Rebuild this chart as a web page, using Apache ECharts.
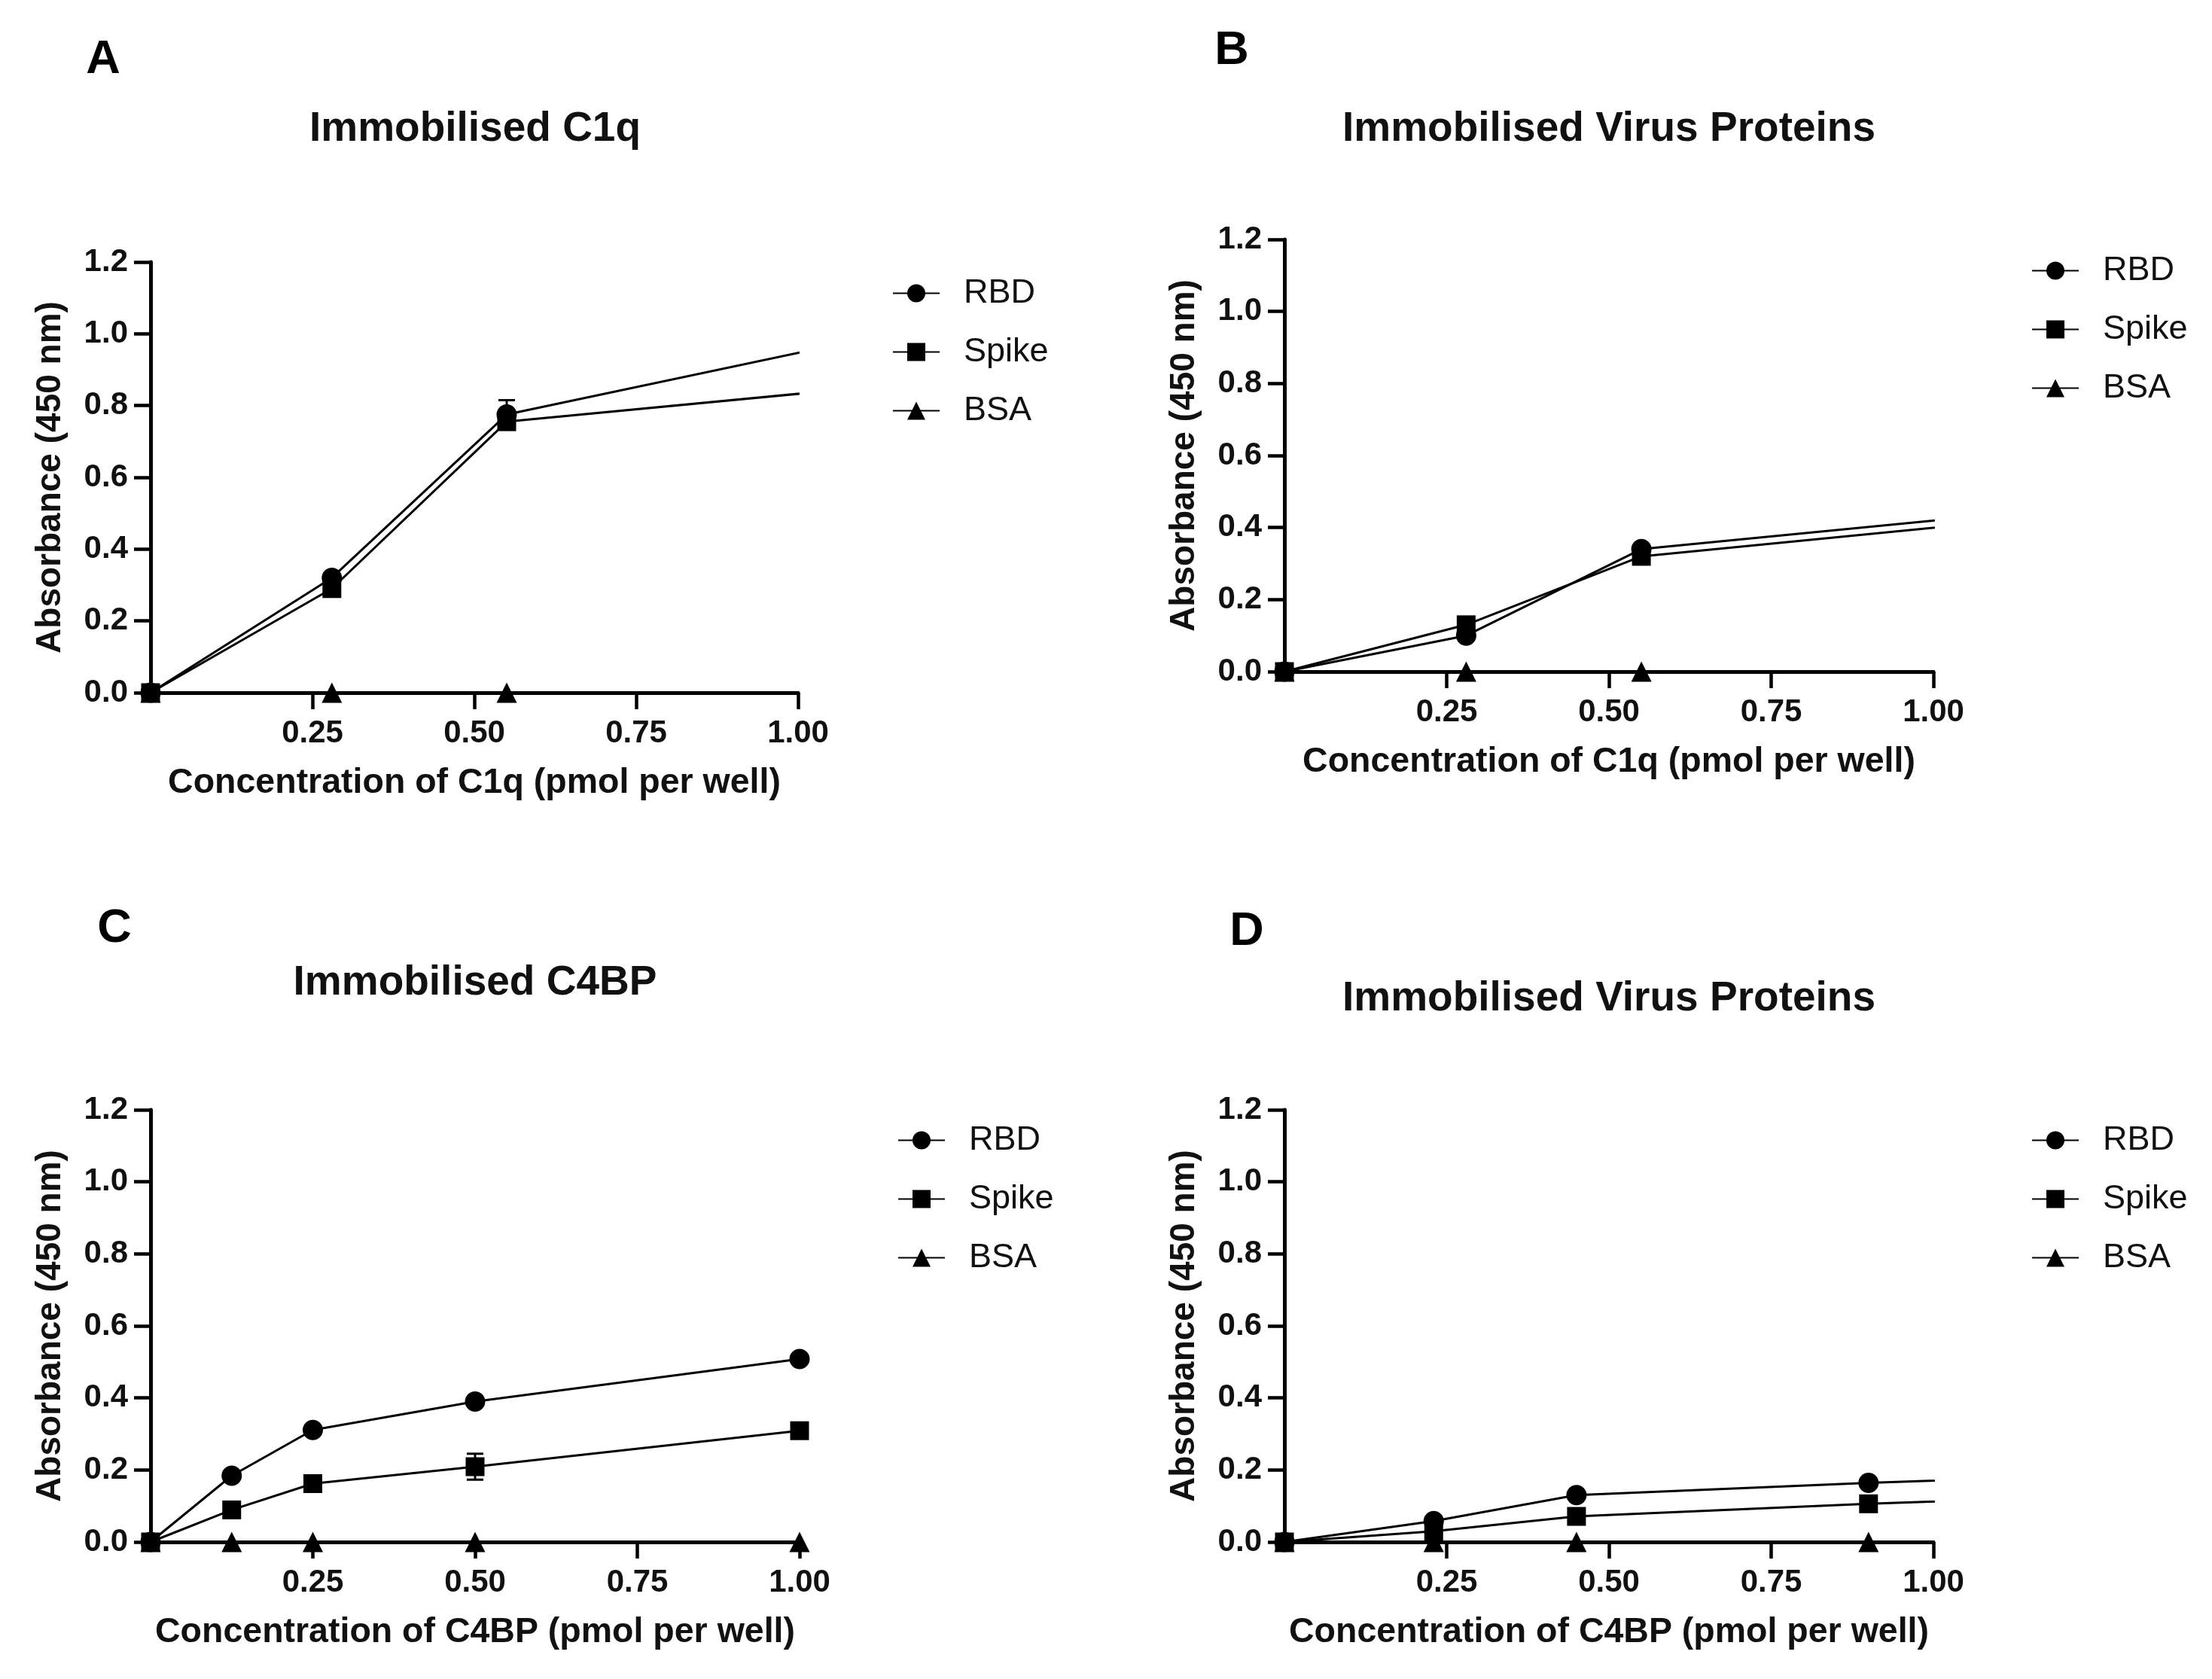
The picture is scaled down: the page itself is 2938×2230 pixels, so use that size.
<!DOCTYPE html>
<html>
<head>
<meta charset="utf-8">
<script src="https://cdn.jsdelivr.net/npm/echarts@6/dist/echarts.min.js"></script>
<style>
html,body{margin:0;padding:0;background:#fff;}
#chart{width:2938px;height:2230px;}
</style>
</head>
<body>
<div id="chart"></div>
<script>
// ---------- DATA ----------
const seriesNames = ['RBD', 'Spike', 'BSA'];
const panelLetters = ['A', 'B', 'C', 'D'];
const panelTitles = ['Immobilised C1q', 'Immobilised Virus Proteins', 'Immobilised C4BP', 'Immobilised Virus Proteins'];
const xAxisTitles = ['Concentration of C1q (pmol per well)', 'Concentration of C1q (pmol per well)',
                     'Concentration of C4BP (pmol per well)', 'Concentration of C4BP (pmol per well)'];
const yAxisTitle = 'Absorbance (450 nm)';
const xTickValues = [0.25, 0.5, 0.75, 1.0];

// Panel A
const xA = [0, 0.28, 0.55, 1.1];
const rbdA = [0, 0.32, 0.775, 0.985];
const spikeA = [0, 0.29, 0.755, 0.85];
const bsaA = [0, 0, 0, 0];
const rbdAErr = [0, 0.01, 0.04, 0];
const spikeAErr = [0, 0.01, 0.015, 0];

// Panel B
const xB = [0, 0.28, 0.55, 1.1];
const rbdB = [0, 0.10, 0.34, 0.437];
const spikeB = [0, 0.13, 0.32, 0.417];
const bsaB = [0, 0, 0, 0];

// Panel C
const xC = [0, 0.125, 0.25, 0.5, 1.0];
const rbdC = [0, 0.184, 0.311, 0.39, 0.508];
const spikeC = [0, 0.089, 0.162, 0.209, 0.309];
const bsaC = [0, 0, 0, 0, 0];
const spikeCErr = [0, 0.008, 0.01, 0.036, 0.01];

// Panel D
const xD = [0, 0.23, 0.45, 0.9, 1.8];
const rbdD = [0, 0.058, 0.13, 0.164, 0.218];
const spikeD = [0, 0.03, 0.071, 0.106, 0.16];
const bsaD = [0, 0, 0, 0, 0];

const panels = [
  {x: xA, vals: [rbdA, spikeA, bsaA], errs: [rbdAErr, spikeAErr, null]},
  {x: xB, vals: [rbdB, spikeB, bsaB], errs: [null, null, null]},
  {x: xC, vals: [rbdC, spikeC, bsaC], errs: [null, spikeCErr, null]},
  {x: xD, vals: [rbdD, spikeD, bsaD], errs: [null, null, null]}
];

// ---------- LAYOUT ----------
const FONT = 'Liberation Sans';
const grids = [
  {left: 200, top: 348, width: 860, height: 572},
  {left: 1706, top: 318, width: 862, height: 574},
  {left: 200, top: 1474, width: 862, height: 574},
  {left: 1706, top: 1474, width: 862, height: 574}
];
const legendPos = [
  {left: 1185, top: 367},
  {left: 2698, top: 337},
  {left: 1192, top: 1492},
  {left: 2698, top: 1492}
];
const letterPos = [[137, 80], [1636, 68], [152, 1234], [1656, 1238]];
const titlePos = [[631, 172], [2137, 172], [631, 1306], [2137, 1327]];
const symbols = ['circle', 'rect', 'triangle'];
const symbolSizes = [27, 25, 27];

const xAxes = [], yAxes = [], series = [], legends = [], graphics = [];
panels.forEach((p, i) => {
  xAxes.push({
    type: 'value', gridIndex: i, min: 0, max: 1, interval: 0.25,
    name: xAxisTitles[i], nameLocation: 'middle', nameGap: 97,
    nameTextStyle: {fontFamily: FONT, fontWeight: 'bold', fontSize: 46.5, color: '#111'},
    axisLine: {show: true, onZero: false, lineStyle: {color: '#000', width: 5}},
    axisTick: {show: true, length: 22, inside: false, customValues: xTickValues, lineStyle: {color: '#000', width: 4.5}},
    axisLabel: {show: true, margin: 33, customValues: xTickValues, fontFamily: FONT, fontWeight: 'bold', fontSize: 42, color: '#111',
                formatter: v => v.toFixed(2)},
    splitLine: {show: false}
  });
  yAxes.push({
    type: 'value', gridIndex: i, min: 0, max: 1.2, interval: 0.2,
    name: yAxisTitle, nameLocation: 'middle', nameGap: 110,
    nameTextStyle: {fontFamily: FONT, fontWeight: 'bold', fontSize: 46, color: '#111'},
    axisLine: {show: true, onZero: false, lineStyle: {color: '#000', width: 5}},
    axisTick: {show: true, length: 22, inside: false, lineStyle: {color: '#000', width: 4.5}},
    axisLabel: {show: true, margin: 30, fontFamily: FONT, fontWeight: 'bold', fontSize: 42, color: '#111',
                formatter: v => v.toFixed(1)},
    splitLine: {show: false}
  });
  seriesNames.forEach((nm, k) => {
    const vals = p.vals[k];
    series.push({
      type: 'line', name: nm, xAxisIndex: i, yAxisIndex: i,
      data: p.x.map((xv, j) => [xv, vals[j]]),
      symbol: symbols[k], symbolSize: symbolSizes[k], showSymbol: true, showAllSymbol: true,
      clip: true, z: 3 + (2 - k),
      lineStyle: {color: '#000', width: 3},
      itemStyle: {color: '#000'},
      emphasis: {disabled: true}
    });
    const err = p.errs[k];
    if (err) {
      const errData = [];
      p.x.forEach((xv, j) => { if (err[j] > 0 && xv <= 1) errData.push([xv, vals[j] - err[j], vals[j] + err[j]]); });
      series.push({
        type: 'custom', name: nm + ' SEM', xAxisIndex: i, yAxisIndex: i, z: 2,
        data: errData,
        renderItem: (params, api) => {
          const xv = api.value(0);
          const lo = api.coord([xv, api.value(1)]);
          const hi = api.coord([xv, api.value(2)]);
          const w = 11;
          const st = {stroke: '#000', lineWidth: 3};
          return {type: 'group', children: [
            {type: 'line', shape: {x1: lo[0], y1: lo[1], x2: hi[0], y2: hi[1]}, style: st},
            {type: 'line', shape: {x1: hi[0] - w, y1: hi[1], x2: hi[0] + w, y2: hi[1]}, style: st},
            {type: 'line', shape: {x1: lo[0] - w, y1: lo[1], x2: lo[0] + w, y2: lo[1]}, style: st}
          ]};
        }
      });
    }
  });
  legends.push({
    orient: 'vertical', left: legendPos[i].left, top: legendPos[i].top,
    itemWidth: 62, itemHeight: 30, itemGap: 33, padding: 0,
    selectedMode: false, data: seriesNames,
    textStyle: {fontFamily: FONT, fontSize: 45, color: '#111', lineHeight: 44, padding: [0, 0, 0, 27]}
  });
  graphics.push({
    type: 'text', x: letterPos[i][0], y: letterPos[i][1],
    style: {text: panelLetters[i], fontFamily: FONT, fontWeight: 'bold', fontSize: 63, fill: '#000',
            align: 'center', verticalAlign: 'middle'}
  });
  graphics.push({
    type: 'text', x: titlePos[i][0], y: titlePos[i][1],
    style: {text: panelTitles[i], fontFamily: FONT, fontWeight: 'bold', fontSize: 55, fill: '#111',
            align: 'center', verticalAlign: 'middle'}
  });
});

const chart = echarts.init(document.getElementById('chart'), null, {renderer: 'canvas'});
chart.setOption({
  backgroundColor: '#fff',
  animation: false,
  grid: grids.map(g => Object.assign({outerBoundsMode: 'none', containLabel: false}, g)),
  xAxis: xAxes,
  yAxis: yAxes,
  legend: legends,
  series: series,
  graphic: graphics
});
</script>
</body>
</html>
